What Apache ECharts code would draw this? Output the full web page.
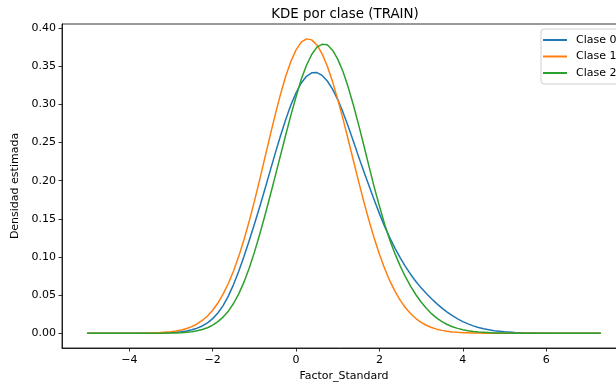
<!DOCTYPE html>
<html>
<head>
<meta charset="utf-8">
<script src="https://cdn.jsdelivr.net/npm/echarts@6/dist/echarts.min.js"></script>
<style>
html,body{margin:0;padding:0;background:#fff;}
#chart{width:616px;height:385px;}
</style>
</head>
<body>
<div id="chart"></div>
<script>
// ---- data ----
const xs = [-5,-4.5,-4,-3.75,-3.5,-3.25,
  -3,-2.875,-2.75,-2.625,-2.5,-2.375,-2.25,-2.125,-2,-1.875,-1.75,-1.625,-1.5,-1.375,-1.25,-1.125,-1,-0.875,-0.75,-0.625,-0.5,-0.375,-0.25,-0.125,
  0,0.125,0.25,0.375,0.5,0.625,0.75,0.875,1,1.125,1.25,1.375,1.5,1.625,1.75,1.875,2,2.125,2.25,2.375,2.5,2.625,2.75,2.875,
  3,3.125,3.25,3.375,3.5,3.625,3.75,3.875,4,4.125,4.25,4.375,4.5,
  4.75,5,5.25,5.5,5.75,6,6.5,7,7.3];
const clase0 = [0,0,0,0,0.0001,0.0004,
  0.0009,0.0014,0.0021,0.0031,0.0046,0.0067,0.0096,0.0137,0.0192,0.0265,0.0363,0.0487,0.0638,0.0813,0.1005,0.1212,0.1429,0.1652,0.1884,0.2122,0.2358,0.2586,0.2799,0.2990,
  0.3152,0.3280,0.3368,0.3414,0.3416,0.3379,0.3306,0.3199,0.3062,0.2898,0.2713,0.2518,0.2315,0.2120,0.1932,0.1747,0.1568,0.1400,0.1250,0.1113,0.0988,0.0874,0.0771,0.0678,
  0.0595,0.0520,0.0452,0.0389,0.0330,0.0277,0.0230,0.0189,0.0153,0.0123,0.0097,0.0076,0.0059,
  0.0034,0.0019,0.0010,0.0005,0.0002,0.0001,0,0,0];
const clase1 = [0,0,0,0.0001,0.0004,0.0009,
  0.0020,0.0029,0.0043,0.0062,0.0087,0.0122,0.0168,0.0227,0.0302,0.0396,0.0512,0.0652,0.0817,0.1008,0.1225,0.1466,0.1729,0.2007,0.2295,0.2584,0.2866,0.3128,0.3364,0.3562,
  0.3714,0.3815,0.3858,0.3845,0.3778,0.3661,0.3499,0.3298,0.3065,0.2809,0.2540,0.2264,0.1990,0.1725,0.1476,0.1244,0.1035,0.0849,0.0686,0.0548,0.0431,0.0334,0.0256,0.0193,
  0.0144,0.0105,0.0076,0.0054,0.0038,0.0027,0.0018,0.0012,0.0008,0.0006,0.0004,0.0002,0.0001,
  0,0,0,0,0,0,0,0,0];
const clase2 = [0,0,0,0,0,0.0001,
  0.0003,0.0005,0.0007,0.0012,0.0020,0.0032,0.0049,0.0073,0.0106,0.0152,0.0212,0.0290,0.0390,0.0516,0.0670,0.0852,0.1060,0.1290,0.1537,0.1795,0.2060,0.2328,0.2595,0.2855,
  0.3100,0.3329,0.3512,0.3653,0.3750,0.3787,0.3780,0.3710,0.3593,0.3430,0.3226,0.2992,0.2735,0.2464,0.2188,0.1916,0.1666,0.1430,0.1220,0.1040,0.0880,0.0738,0.0614,0.0505,
  0.0410,0.0327,0.0257,0.0199,0.0152,0.0115,0.0086,0.0064,0.0047,0.0034,0.0024,0.0017,0.0012,
  0.0005,0.0002,0.0001,0,0,0,0,0,0];
const seriesNames = ['Clase 0','Clase 1','Clase 2'];
const xTicks = [-4,-2,0,2,4,6];
const yTicks = [0,0.05,0.10,0.15,0.20,0.25,0.30,0.35,0.40];
const titleText = 'KDE por clase (TRAIN)';
const xLabel = 'Factor_Standard';
const yLabel = 'Densidad estimada';

// ---- chart ----
const colors = ['#1f77b4','#ff7f0e','#2ca02c'];
const values = [clase0, clase1, clase2];
const font = 'DejaVu Sans';
const chart = echarts.init(document.getElementById('chart'), null, {renderer:'canvas'});
const fmtX = v => (v < 0 ? '\u2212' + Math.abs(v) : String(v));

chart.setOption({
  animation: false,
  backgroundColor: '#fff',
  textStyle: {fontFamily: font},
  title: {
    text: titleText,
    left: 340, top: 3, textAlign: 'center',
    textStyle: {fontFamily: font, fontSize: 13.4, fontWeight: 'normal', color: '#000'}
  },
  grid: {
    left: 62, right: -10, top: 24, bottom: 37,
    show: true, borderColor: '#000', borderWidth: 0.8,
    containLabel: false, outerBoundsMode: 'none'
  },
  legend: {
    data: seriesNames,
    orient: 'vertical',
    left: 541, top: 29,
    padding: [5, 60, 5, 2],
    icon: 'rect',
    itemWidth: 24, itemHeight: 2, itemGap: 4.5,
    backgroundColor: 'rgba(255,255,255,0.8)',
    borderColor: '#d0d0d0', borderWidth: 1, borderRadius: 3,
    textStyle: {fontFamily: font, fontSize: 11, color: '#000', lineHeight: 12, padding: [0,0,0,4]}
  },
  xAxis: {
    type: 'value',
    min: -5.615, max: 7.915,
    name: xLabel, nameLocation: 'middle', nameGap: 22,
    nameTextStyle: {fontFamily: font, fontSize: 11, color: '#000'},
    axisLine: {show: true, onZero: false, lineStyle: {color: '#000', width: 0.8}},
    axisTick: {show: true, inside: false, length: 3.5, customValues: xTicks, lineStyle: {color: '#000', width: 0.8}},
    axisLabel: {show: true, customValues: xTicks, margin: 7, formatter: fmtX, fontFamily: font, fontSize: 11, color: '#000'},
    splitLine: {show: false}
  },
  yAxis: {
    type: 'value',
    min: -0.0193, max: 0.4053,
    name: yLabel, nameLocation: 'middle', nameGap: 32, nameRotate: 90,
    nameTextStyle: {fontFamily: font, fontSize: 11, color: '#000'},
    axisLine: {show: true, onZero: false, lineStyle: {color: '#000', width: 0.8}},
    axisTick: {show: true, inside: false, length: 3.5, customValues: yTicks, lineStyle: {color: '#000', width: 0.8}},
    axisLabel: {show: true, customValues: yTicks, margin: 6, formatter: v => v.toFixed(2), fontFamily: font, fontSize: 11, color: '#000'},
    splitLine: {show: false}
  },
  series: values.map((vals, i) => ({
    name: seriesNames[i],
    type: 'line',
    data: xs.map((x, j) => [x, vals[j]]),
    symbol: 'none',
    smooth: false,
    color: colors[i],
    lineStyle: {width: 1.5, color: colors[i], join: 'round', cap: 'round'},
    z: 2 + i
  }))
});
</script>
</body>
</html>
